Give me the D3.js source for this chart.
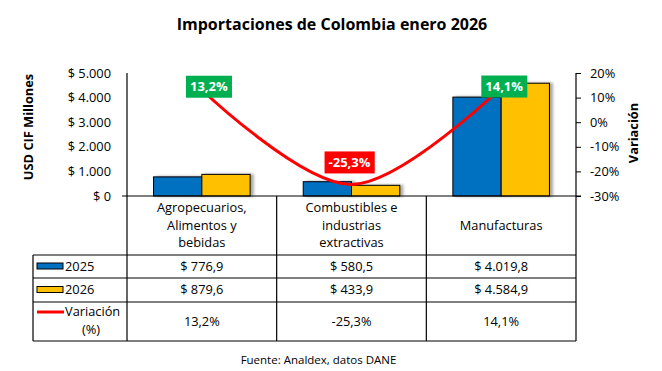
<!DOCTYPE html>
<html><head><meta charset="utf-8">
<script src="https://cdn.jsdelivr.net/npm/d3@7"></script>
<style>body{margin:0;background:#fff}svg{display:block;font-family:"Open Sans",sans-serif}</style>
</head><body>
<svg id="c" width="662" height="371"></svg>
<script>
const categories = ["Agropecuarios, Alimentos y bebidas", "Combustibles e industrias extractivas", "Manufacturas"];
const categoryLines = [["Agropecuarios,", "Alimentos y", "bebidas"], ["Combustibles e", "industrias", "extractivas"], ["Manufacturas"]];
const seriesNames = ["2025", "2026"];
const values2025 = [776.9, 580.5, 4019.8];
const values2026 = [879.6, 433.9, 4584.9];
const variation = [0.132, -0.253, 0.141];
const leftTicks = [0, 1000, 2000, 3000, 4000, 5000];
const rightTicks = [-0.3, -0.2, -0.1, 0, 0.1, 0.2];
const title = "Importaciones de Colombia enero 2026";
const source = "Fuente: Analdex, datos DANE";

const colors = {"2025": "#0070C0", "2026": "#FFC000", line: "#FF0000", pos: "#00B050", neg: "#FF0000"};
const loc = d3.formatLocale({decimal: ",", thousands: ".", grouping: [3], currency: ["$ ", ""], minus: "-"});
const fAxis = loc.format("$,.0f"), fVal = loc.format("$,.1f"), fPctAxis = loc.format(".0%"), fPct = loc.format(".1%");

const svg = d3.select("#c");
const FS = 12.8;
const L = 127, R = 576, T = 73, B = 196;
const rowY = [255, 278, 302, 341];
const tableLeft = 33;

const defs = svg.append("defs");
const filt = defs.append("filter").attr("id", "sh").attr("x", "-20%").attr("y", "-20%").attr("width", "160%").attr("height", "140%");
filt.append("feDropShadow").attr("dx", 3).attr("dy", 0).attr("stdDeviation", 1.8).attr("flood-color", "#000").attr("flood-opacity", 0.35);

const x0 = d3.scaleBand().domain(categories).range([L, R]).padding(0);
const x1 = d3.scaleBand().domain(seriesNames).range([0, x0.bandwidth()]).paddingInner(0).paddingOuter(0.55);
const yL = d3.scaleLinear().domain([0, 5000]).range([B, T]);
const yR = d3.scaleLinear().domain([-0.3, 0.2]).range([B, T]);

// title
svg.append("text").attr("x", 332).attr("y", 30).attr("text-anchor", "middle")
  .attr("font-weight", "bold").attr("font-size", 16).attr("fill", "#000").text(title);

// left axis
const gL = svg.append("g").attr("transform", `translate(${L},0)`)
  .call(d3.axisLeft(yL).tickValues(leftTicks).tickFormat(fAxis).tickSize(0).tickPadding(16));
gL.select(".domain").remove();
gL.selectAll("text").attr("font-size", FS).attr("font-family", "Open Sans").attr("fill", "#000");

// right axis
const gR = svg.append("g").attr("transform", `translate(${R},0)`)
  .call(d3.axisRight(yR).tickValues(rightTicks).tickFormat(fPctAxis).tickSize(5).tickPadding(9));
gR.select(".domain").remove();
gR.selectAll("line").attr("stroke", "#000");
gR.selectAll("text").attr("font-size", FS).attr("font-family", "Open Sans").attr("fill", "#000");

// axis titles
svg.append("text").attr("transform", "translate(33,127) rotate(-90)").attr("text-anchor", "middle")
  .attr("font-weight", "bold").attr("font-size", FS).attr("fill", "#000").text("USD CIF Millones");
svg.append("text").attr("transform", "translate(638,133) rotate(-90)").attr("text-anchor", "middle")
  .attr("font-weight", "bold").attr("font-size", FS).attr("fill", "#000").text("Variación");

// bars
const barData = categories.map((c, i) => ({c, vals: [{s: "2025", v: values2025[i]}, {s: "2026", v: values2026[i]}]}));
const gB = svg.append("g");
gB.selectAll("g").data(barData).join("g").attr("transform", d => `translate(${x0(d.c)},0)`)
  .selectAll("rect").data(d => d.vals).join("rect")
  .attr("x", d => x1(d.s)).attr("width", x1.bandwidth())
  .attr("y", d => yL(d.v)).attr("height", d => B - yL(d.v))
  .attr("fill", d => colors[d.s]).attr("stroke", "#000").attr("stroke-width", 1)
  .attr("filter", "url(#sh)");

// table / frame lines
const lines = svg.append("g").attr("stroke", "#000").attr("stroke-width", 1.2).attr("fill", "none");
lines.append("line").attr("x1", L - 5).attr("x2", R + 5).attr("y1", B).attr("y2", B);
lines.append("line").attr("x1", L).attr("x2", L).attr("y1", T).attr("y2", rowY[3]);
lines.append("line").attr("x1", R).attr("x2", R).attr("y1", T).attr("y2", rowY[3]);
categories.slice(1).forEach(c => lines.append("line").attr("x1", x0(c)).attr("x2", x0(c)).attr("y1", B).attr("y2", rowY[3]));
rowY.forEach(y => lines.append("line").attr("x1", tableLeft).attr("x2", R).attr("y1", y).attr("y2", y));
lines.append("line").attr("x1", tableLeft).attr("x2", tableLeft).attr("y1", rowY[0]).attr("y2", rowY[3]);

// category labels
const lh = 17.5;
categoryLines.forEach((ls, i) => {
  const cx = x0(categories[i]) + x0.bandwidth() / 2;
  const mid = (B + rowY[0]) / 2;
  const t = svg.append("text").attr("text-anchor", "middle").attr("font-size", FS).attr("fill", "#000");
  ls.forEach((s, j) => t.append("tspan").attr("x", cx)
    .attr("y", mid + (j - (ls.length - 1) / 2) * lh).attr("dy", "0.35em").text(s));
});

// table rows
const rows = [values2025.map(fVal), values2026.map(fVal), variation.map(fPct)];
rows.forEach((r, k) => {
  const cy = (rowY[k] + rowY[k + 1]) / 2;
  r.forEach((s, i) => svg.append("text").attr("x", x0(categories[i]) + x0.bandwidth() / 2).attr("y", cy)
    .attr("dy", "0.35em").attr("text-anchor", "middle").attr("font-size", FS).attr("fill", "#000").text(s));
});

// legend keys
seriesNames.forEach((s, k) => {
  const cy = (rowY[k] + rowY[k + 1]) / 2;
  svg.append("rect").attr("x", 37).attr("y", cy - 3.5).attr("width", 26).attr("height", 6)
    .attr("fill", colors[s]).attr("stroke", "#000").attr("stroke-width", 1);
  svg.append("text").attr("x", 65).attr("y", cy).attr("dy", "0.35em").attr("font-size", FS).attr("fill", "#000").text(s);
});
svg.append("line").attr("x1", 37).attr("x2", 64).attr("y1", 312).attr("y2", 312).attr("stroke", colors.line).attr("stroke-width", 3);
svg.append("text").attr("x", 65).attr("y", 312).attr("dy", "0.35em").attr("font-size", FS).attr("fill", "#000").text("Variación");
svg.append("text").attr("x", 91).attr("y", 330).attr("dy", "0.35em").attr("text-anchor", "middle").attr("font-size", FS).attr("fill", "#000").text("(%)");

// line
const pts = categories.map((c, i) => [x0(c) + x0.bandwidth() / 2, yR(variation[i])]);
svg.append("path").attr("d", d3.line().curve(d3.curveCardinal.tension(0))(pts))
  .attr("fill", "none").attr("stroke", colors.line).attr("stroke-width", 3);

// data labels
const labelOffsets = [[7, -3], [-2, -22], [3, -1]];
pts.forEach((p, i) => {
  const cx = p[0] + labelOffsets[i][0], cy = p[1] + labelOffsets[i][1];
  const g = svg.append("g");
  const t = g.append("text").attr("x", cx).attr("y", cy).attr("dy", "0.35em").attr("text-anchor", "middle")
    .attr("font-weight", "bold").attr("font-size", 13).attr("fill", "#fff").text(fPct(variation[i]));
  const bb = t.node().getBBox();
  g.insert("rect", "text").attr("x", bb.x - 4).attr("y", cy - 11).attr("width", bb.width + 8).attr("height", 22)
    .attr("fill", variation[i] >= 0 ? colors.pos : colors.neg);
});

// source
svg.append("text").attr("x", 318.5).attr("y", 360).attr("dy", "0.35em").attr("text-anchor", "middle")
  .attr("font-size", 11.5).attr("fill", "#000").text(source);
</script>
</body></html>
